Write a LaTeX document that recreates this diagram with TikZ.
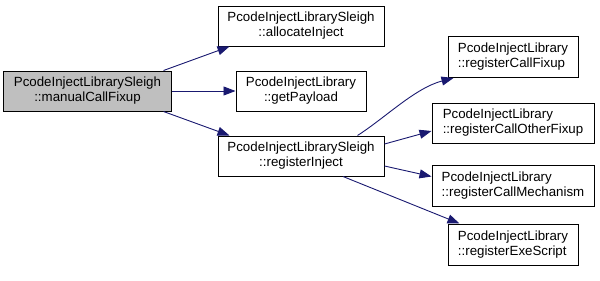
\documentclass[tikz,border=0pt]{standalone}
\usepackage{fontspec}
\setmainfont{Liberation Sans}
\usetikzlibrary{arrows.meta,calc}
\definecolor{edgeblue}{HTML}{191970}
\definecolor{hilite}{HTML}{BFBFBF}
\tikzset{
  fnbox/.style={draw=black, line width=1bp, fill=white, inner sep=0pt,
    minimum height=40bp, align=center,
    font=\fontsize{13.3bp}{15bp}\selectfont},
  fnboxl/.style={fnbox, align=left},
  current/.style={fill=hilite},
  call/.style={draw=edgeblue, line width=0.9bp,
    -{Triangle[length=12bp,width=9bp,fill=edgeblue]}},
}
\begin{document}
\begin{tikzpicture}[x=1bp,y=-1bp]
  \useasboundingbox (0,0) rectangle (600,280);

  % caller
  \node[fnbox, current, minimum width=167bp] (A) at (87.5,91)
    {PcodeInjectLibrarySleigh\\::manualCallFixup};

  % direct callees
  \node[fnbox, minimum width=166bp] (B) at (301,26)
    {PcodeInjectLibrarySleigh\\::allocateInject};
  \node[fnbox, minimum width=130bp] (C) at (301,91)
    {PcodeInjectLibrary\\::getPayload};
  \node[fnbox, minimum width=166bp] (D) at (301,156)
    {PcodeInjectLibrarySleigh\\::registerInject};

  % callees of registerInject
  \node[fnboxl, minimum width=130bp, minimum height=41bp] (E) at (513,57)
    {PcodeInjectLibrary\\::registerCallFixup};
  \node[fnboxl, minimum width=162bp] (F) at (513,123)
    {PcodeInjectLibrary\\::registerCallOtherFixup};
  \node[fnboxl, minimum width=162bp, minimum height=41bp] (G) at (513,185.5)
    {PcodeInjectLibrary\\::registerCallMechanism};
  \node[fnboxl, minimum width=130bp, minimum height=41bp] (H) at (513,244.5)
    {PcodeInjectLibrary\\::registerExeScript};

  % call edges
  \draw[call] ($(A.north east)+(-8,0)$) -- ($(B.south west)+(12,0)$);
  \draw[call] (A.east) -- (C.west);
  \draw[call] ($(A.south east)+(-8,0)$) -- ($(D.north west)+(12,0)$);

  \draw[call] ($(D.north east)+(-27,0)$)
    .. controls (385,118) and (415,88) .. ($(E.south west)+(6,0)$);
  \draw[call] ($(D.east)+(0,-12)$) -- ($(F.west)+(0,8)$);
  \draw[call] ($(D.east)+(0,10)$) -- ($(G.west)+(0,-9)$);
  \draw[call] ($(D.south)+(42,0)$) -- ($(H.north west)+(12,0)$);
\end{tikzpicture}
\end{document}
